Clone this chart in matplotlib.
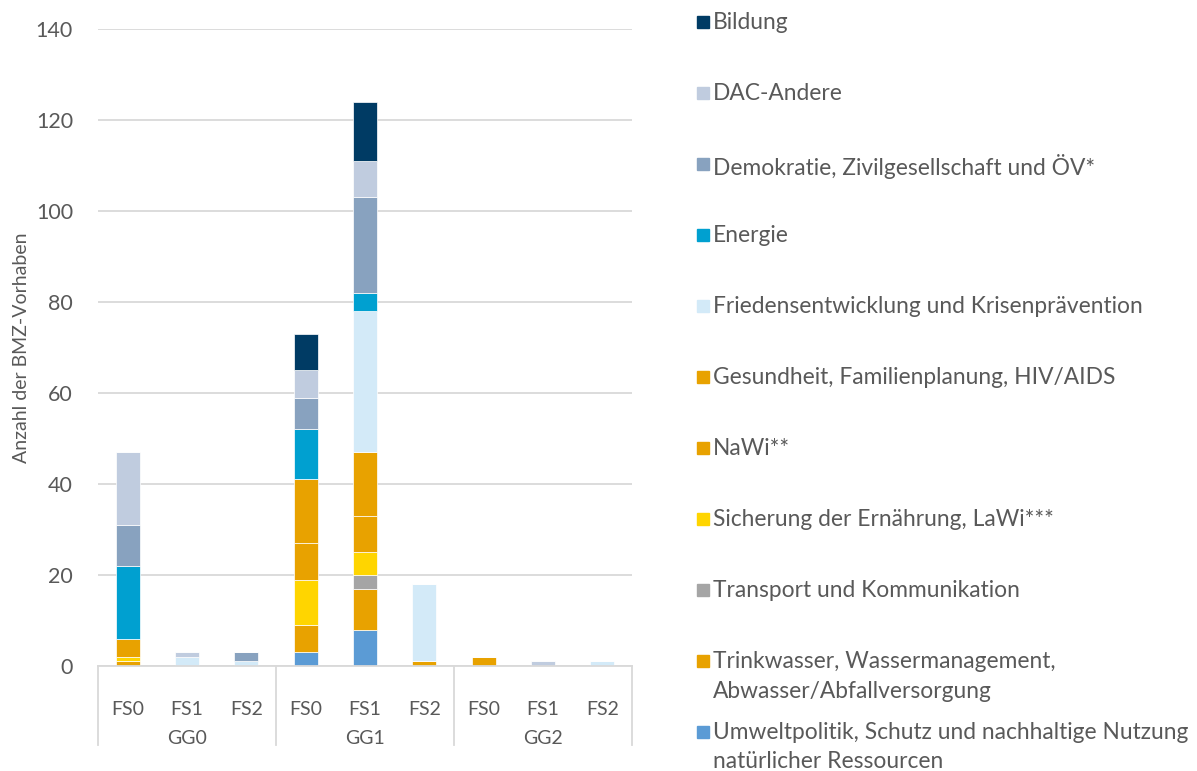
import matplotlib
matplotlib.use("Agg")
import matplotlib.pyplot as plt
from matplotlib.patches import Rectangle
import matplotlib.transforms as mtransforms

plt.rcParams['font.family'] = ['Lato', 'DejaVu Sans']

# Kategorien (x-Achse)
fs_labels = ['FS0', 'FS1', 'FS2'] * 3
gg_labels = ['GG0', 'GG1', 'GG2']

# Serien, von unten nach oben gestapelt
umwelt = [0, 0, 0, 3, 8, 0, 0, 0, 0]
trinkwasser = [1, 0, 0, 6, 9, 1, 2, 0, 0]
transport = [0, 0, 0, 0, 3, 0, 0, 0, 0]
sicherung = [1, 0, 0, 10, 5, 0, 0, 0, 0]
nawi = [0, 0, 0, 8, 8, 0, 0, 0, 0]
gesundheit = [4, 0, 0, 14, 14, 0, 0, 0, 0]
frieden = [0, 2, 1, 0, 31, 17, 0, 0, 1]
energie = [16, 0, 0, 11, 4, 0, 0, 0, 0]
demokratie = [9, 0, 2, 7, 21, 0, 0, 0, 0]
dac = [16, 1, 0, 6, 8, 0, 0, 1, 0]
bildung = [0, 0, 0, 8, 13, 0, 0, 0, 0]

series = [
    ("Umweltpolitik, Schutz und nachhaltige Nutzung\nnatürlicher Ressourcen", umwelt, '#5B9BD5'),
    ("Trinkwasser, Wassermanagement,\nAbwasser/Abfallversorgung", trinkwasser, '#E8A200'),
    ("Transport und Kommunikation", transport, '#A5A5A5'),
    ("Sicherung der Ernährung, LaWi***", sicherung, '#FFD500'),
    ("NaWi**", nawi, '#E8A200'),
    ("Gesundheit, Familienplanung, HIV/AIDS", gesundheit, '#E8A200'),
    ("Friedensentwicklung und Krisenprävention", frieden, '#D3EAF8'),
    ("Energie", energie, '#00A0D0'),
    ("Demokratie, Zivilgesellschaft und ÖV*", demokratie, '#88A2BF'),
    ("DAC-Andere", dac, '#C0CCDF'),
    ("Bildung", bildung, '#003B64'),
]

text_col = '#595959'
grid_col = '#D9D9D9'
W, H = 1197, 771

fig = plt.figure(figsize=(W / 100, H / 100), dpi=100)
ax = fig.add_axes([98 / W, (H - 666) / H, (632 - 98) / W, (666 - 29) / H])

x = list(range(len(fs_labels)))
bottom = [0] * len(x)
for label, vals, col in series:
    ax.bar(x, vals, width=0.4, bottom=bottom, color=col, edgecolor='white', linewidth=0.5, zorder=3)
    bottom = [b + v for b, v in zip(bottom, vals)]

ax.set_xlim(-0.5, len(x) - 0.5)
ax.set_ylim(0, 140)
ax.set_yticks(range(0, 141, 20))
ax.yaxis.grid(True, color=grid_col, linewidth=1.3, zorder=0)
for s in ['top', 'right', 'left']:
    ax.spines[s].set_visible(False)
ax.spines['bottom'].set_color(grid_col)
ax.spines['bottom'].set_linewidth(1.3)
ax.spines['bottom'].set_zorder(4)
ax.tick_params(axis='y', length=0, pad=18, labelsize=15.5, labelcolor=text_col)
ax.tick_params(axis='x', length=0, pad=25, labelsize=14, labelcolor=text_col)
ax.set_xticks(x)
ax.set_xticklabels(fs_labels)

ax.set_ylabel('Anzahl der BMZ-Vorhaben', fontsize=14, color=text_col)
ax.yaxis.set_label_coords(-0.128, 0.5)

# Gruppenbeschriftung und Trennlinien
trans = mtransforms.blended_transform_factory(ax.transData, ax.transAxes)
for i, g in enumerate(gg_labels):
    ax.text(3 * i + 1, -(739 - 666) / 637, g, transform=trans, ha='center', va='center',
            fontsize=14, color=text_col)
for xs in [-0.5, 2.5, 5.5, 8.5]:
    ax.plot([xs, xs], [0, -(745 - 666) / 637], transform=trans, color=grid_col,
            linewidth=1.3, clip_on=False)

# Legende rechts
for i, (label, vals, col) in enumerate(series[::-1]):
    y = H - (22 + 71 * i)
    fig.add_artist(Rectangle(((697) / W, (y - 6) / H), 12 / W, 12 / H,
                             transform=fig.transFigure, color=col))
    fig.text(713 / W, (y + 10) / H, label, ha='left', va='top', fontsize=16.4,
             color=text_col, linespacing=1.5)

fig.savefig('out.png', dpi=100)
